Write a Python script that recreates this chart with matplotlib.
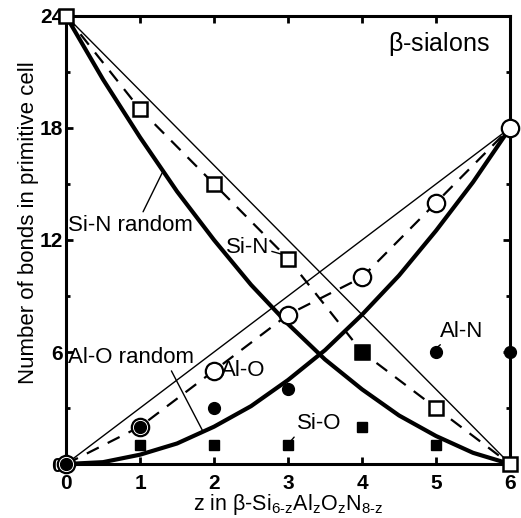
import matplotlib
matplotlib.use("Agg")
import matplotlib.pyplot as plt
from matplotlib.ticker import MultipleLocator

plt.rcParams['font.family'] = ['Liberation Sans', 'DejaVu Sans']
plt.rcParams['mathtext.fontset'] = 'custom'
plt.rcParams['mathtext.rm'] = 'Liberation Sans'
plt.rcParams['mathtext.it'] = 'Liberation Sans:italic'

# composition z
z = [0, 1, 2, 3, 4, 5, 6]

# computed bond counts (markers)
si_n = [24, 19, 15, 11, 6, 3, 0]
al_o = [0, 2, 5, 8, 10, 14, 18]
al_n = [0, 2, 3, 4, 6, 6, 6]
si_o = [0, 1, 1, 1, 2, 1, 0]

# random-distribution curves
z_curve = [0, 0.5, 1, 1.5, 2, 2.5, 3, 3.5, 4, 4.5, 5, 5.5, 6]
si_n_random = [24, 20.6, 17.5, 14.6, 12, 9.6, 7.5, 5.6, 4, 2.6, 1.5, 0.6, 0]
al_o_random = [0, 0.1, 0.5, 1.1, 2, 3.1, 4.5, 6.1, 8, 10.1, 12.5, 15.1, 18]

# straight (ordered) limits
z_lin = [0, 6]
si_n_lin = [24, 0]
al_o_lin = [0, 18]

fig = plt.figure(figsize=(5.21, 5.18), dpi=100)
ax = fig.add_axes([0.1267, 0.1042, 0.8523, 0.8650])

# lines
ax.plot(z_lin, si_n_lin, color='black', lw=1.0, zorder=2)
ax.plot(z_lin, al_o_lin, color='black', lw=1.0, zorder=2)
ax.plot(z_curve, si_n_random, color='black', lw=3.0, zorder=2)
ax.plot(z_curve, al_o_random, color='black', lw=3.0, zorder=2)
ax.plot(z, si_n, color='black', lw=1.6, ls=(0, (6, 4.5)), zorder=2)
ax.plot(z, al_o, color='black', lw=1.6, ls=(0, (6, 4.5)), zorder=2)

# markers
ax.plot(z, si_o, ls='none', marker='s', ms=7.5, color='black', zorder=4, clip_on=False)
ax.plot(z, si_n, ls='none', marker='s', ms=10, mfc='white', mec='black', mew=1.8,
        zorder=4, clip_on=False)
ax.plot(z, al_o, ls='none', marker='o', ms=12.5, mfc='white', mec='black', mew=1.6,
        zorder=4, clip_on=False)
ax.plot(z, al_n, ls='none', marker='o', ms=8.5, color='black', zorder=5, clip_on=False)

# where Si-N and Al-N coincide (inside the plot) the square shows filled
both = [(zi, a) for zi, s, a in zip(z, si_n, al_n) if s == a and 0 < zi < 6]
ax.plot([p[0] for p in both], [p[1] for p in both], ls='none', marker='s', ms=10,
        color='black', zorder=6)

# annotations
fs = 16
ax.annotate('Si-N random', xy=(1.3, 15.6), xytext=(0.03, 12.8), fontsize=fs,
            va='center',
            arrowprops=dict(arrowstyle='-', lw=1.0, shrinkA=0, shrinkB=0,
                            relpos=(0.58, 0.9)))
ax.annotate('Si-N', xy=(2.95, 11.2), xytext=(2.45, 11.6), fontsize=fs,
            va='center', ha='center',
            arrowprops=dict(arrowstyle='-', lw=1.0, shrinkA=0, shrinkB=0,
                            relpos=(1.0, 0.35)))
ax.annotate('Al-O random', xy=(1.85, 1.75), xytext=(0.03, 5.7), fontsize=fs,
            va='center',
            arrowprops=dict(arrowstyle='-', lw=1.0, shrinkA=0, shrinkB=0,
                            relpos=(0.79, 0.2)))
ax.text(2.1, 5.0, 'Al-O', fontsize=fs, va='center')
ax.annotate('Al-N', xy=(5.0, 6.2), xytext=(5.05, 7.1), fontsize=fs,
            va='center',
            arrowprops=dict(arrowstyle='-', lw=1.0, shrinkA=0, shrinkB=0,
                            relpos=(0.12, 0.05)))
ax.annotate('Si-O', xy=(3.02, 1.15), xytext=(3.12, 2.15), fontsize=fs,
            va='center',
            arrowprops=dict(arrowstyle='-', lw=1.0, shrinkA=0, shrinkB=0,
                            relpos=(0.03, 0.1)))
ax.text(5.73, 22.5, r'$\mathregular{\beta}$-sialons', fontsize=18,
        ha='right', va='center')

ax.set_xlim(0, 6)
ax.set_ylim(0, 24)
ax.xaxis.set_major_locator(MultipleLocator(1))
ax.yaxis.set_major_locator(MultipleLocator(6))
ax.yaxis.set_minor_locator(MultipleLocator(3))
ax.tick_params(which='both', direction='in', top=True, right=True, width=2.0)
ax.tick_params(which='major', length=5, labelsize=15)
ax.tick_params(axis='x', which='major', pad=7)
ax.tick_params(axis='y', which='major', pad=2)
ax.tick_params(which='minor', length=3)
for lab in ax.get_xticklabels() + ax.get_yticklabels():
    lab.set_fontweight('bold')
for sp in ax.spines.values():
    sp.set_linewidth(2.2)

ax.set_xlabel(r'z in $\mathregular{\beta}$-Si$_{\mathregular{6\text{-}z}}$Al$_{\mathregular{z}}$'
              r'O$_{\mathregular{z}}$N$_{\mathregular{8\text{-}z}}$', fontsize=15.5)
ax.xaxis.set_label_coords(0.5, -0.063)
ax.set_ylabel('Number of bonds in primitive cell', fontsize=16)
ax.yaxis.set_label_coords(-0.06, 0.538)

fig.savefig('out.png', dpi=100)
